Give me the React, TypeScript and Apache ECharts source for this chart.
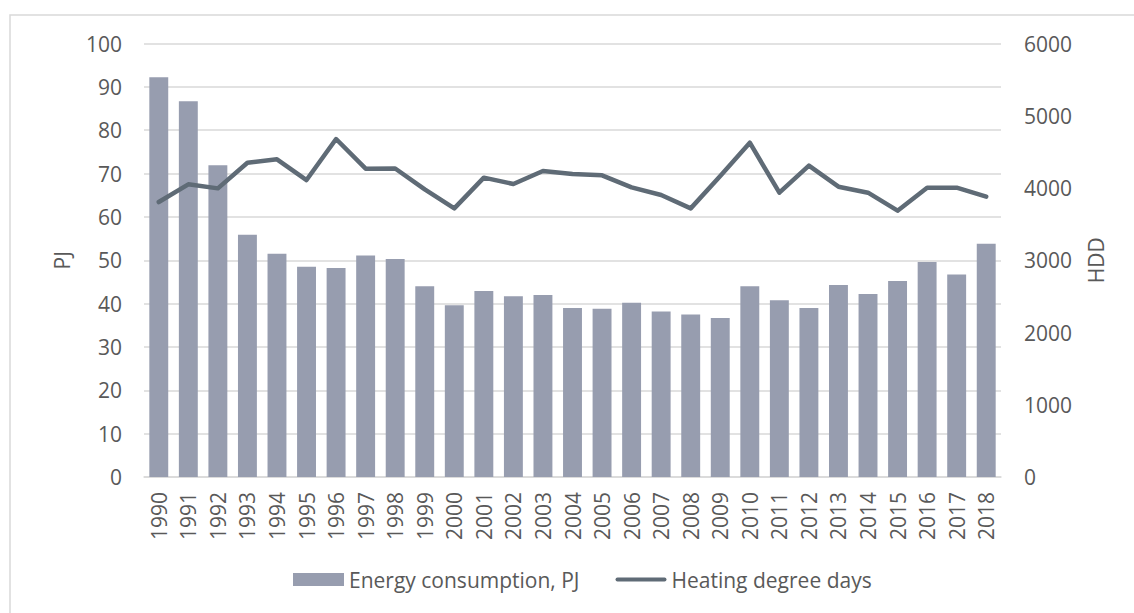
import React, { useEffect, useRef } from "react";
import * as echarts from "echarts";

const years = [
  "1990", "1991", "1992", "1993", "1994", "1995", "1996", "1997", "1998", "1999",
  "2000", "2001", "2002", "2003", "2004", "2005", "2006", "2007", "2008", "2009",
  "2010", "2011", "2012", "2013", "2014", "2015", "2016", "2017", "2018",
];

const energyPJ = [
  92.2, 86.7, 71.9, 55.9, 51.5, 48.5, 48.2, 51.1, 50.3, 44.0,
  39.6, 42.9, 41.7, 42.0, 39.0, 38.8, 40.2, 38.2, 37.5, 36.7,
  44.0, 40.8, 39.0, 44.3, 42.2, 45.2, 49.6, 46.7, 53.8,
];

const hdd = [
  3806, 4051, 3995, 4350, 4397, 4110, 4678, 4267, 4270, 3981,
  3718, 4143, 4055, 4235, 4194, 4175, 4009, 3903, 3718, 4165,
  4627, 3935, 4309, 4018, 3935, 3686, 4004, 4004, 3880,
];

const seriesNames = ["Energy consumption, PJ", "Heating degree days"];

const FONT = "'Open Sans', 'Liberation Sans', sans-serif";
const TEXT = "#595959";
const GRID = "#D9D9D9";

export default function App() {
  const ref = useRef<HTMLDivElement>(null);

  useEffect(() => {
    document.body.style.margin = "0";
    if (!ref.current) return;
    const chart = echarts.init(ref.current, undefined, { renderer: "svg" });
    chart.setOption({
      animation: false,
      backgroundColor: "#ffffff",
      textStyle: { fontFamily: FONT, color: TEXT },
      graphic: [
        {
          type: "rect",
          shape: { x: 10, y: 15, width: 1200, height: 700 },
          style: { fill: "none", stroke: GRID, lineWidth: 1.5 },
          silent: true,
        },
      ],
      grid: { left: 144, right: 133, top: 43.5, bottom: 136 },
      legend: {
        bottom: 18,
        left: 288,
        itemWidth: 51,
        itemHeight: 13,
        itemGap: 36,
        symbolKeepAspect: true,
        textStyle: { fontFamily: FONT, fontSize: 21, color: TEXT },
        data: [
          { name: seriesNames[0], icon: "rect" },
          {
            name: seriesNames[1],
            icon: "path://M2,0 L50,0 A2,2 0 0 1 50,4 L2,4 A2,2 0 0 1 2,0 Z",
            itemStyle: { color: "#5F6B76" },
          },
        ],
      },
      xAxis: {
        type: "category",
        data: years,
        axisLine: { lineStyle: { color: GRID, width: 1.5 } },
        axisTick: { show: false },
        axisLabel: {
          rotate: 90,
          margin: 15,
          interval: 0,
          fontFamily: FONT,
          fontSize: 21,
          color: TEXT,
        },
      },
      yAxis: [
        {
          type: "value",
          min: 0,
          max: 100,
          interval: 10,
          name: "PJ",
          nameLocation: "middle",
          nameGap: 72,
          nameRotate: 90,
          nameTextStyle: { fontFamily: FONT, fontSize: 21, color: TEXT },
          axisLine: { show: false },
          axisTick: { show: false },
          axisLabel: { margin: 22, fontFamily: FONT, fontSize: 21, color: TEXT },
          splitLine: { lineStyle: { color: GRID, width: 1.5 } },
        },
        {
          type: "value",
          min: 0,
          max: 6000,
          interval: 1000,
          name: "HDD",
          nameLocation: "middle",
          nameGap: 84,
          nameRotate: 90,
          nameTextStyle: { fontFamily: FONT, fontSize: 21, color: TEXT },
          axisLine: { show: false },
          axisTick: { show: false },
          axisLabel: {
            margin: 23,
            fontFamily: FONT,
            fontSize: 21,
            color: TEXT,
            formatter: (v: number) => String(v),
          },
          splitLine: { show: false },
        },
      ],
      series: [
        {
          name: seriesNames[0],
          type: "bar",
          data: energyPJ,
          yAxisIndex: 0,
          barCategoryGap: "36%",
          itemStyle: { color: "#979DAF" },
        },
        {
          name: seriesNames[1],
          type: "line",
          data: hdd,
          yAxisIndex: 1,
          symbol: "none",
          smooth: false,
          lineStyle: { color: "#5F6B76", width: 4.5, cap: "round", join: "round" },
          itemStyle: { color: "#5F6B76" },
        },
      ],
    });
    return () => chart.dispose();
  }, []);

  return <div ref={ref} style={{ width: 1134, height: 613 }} />;
}
